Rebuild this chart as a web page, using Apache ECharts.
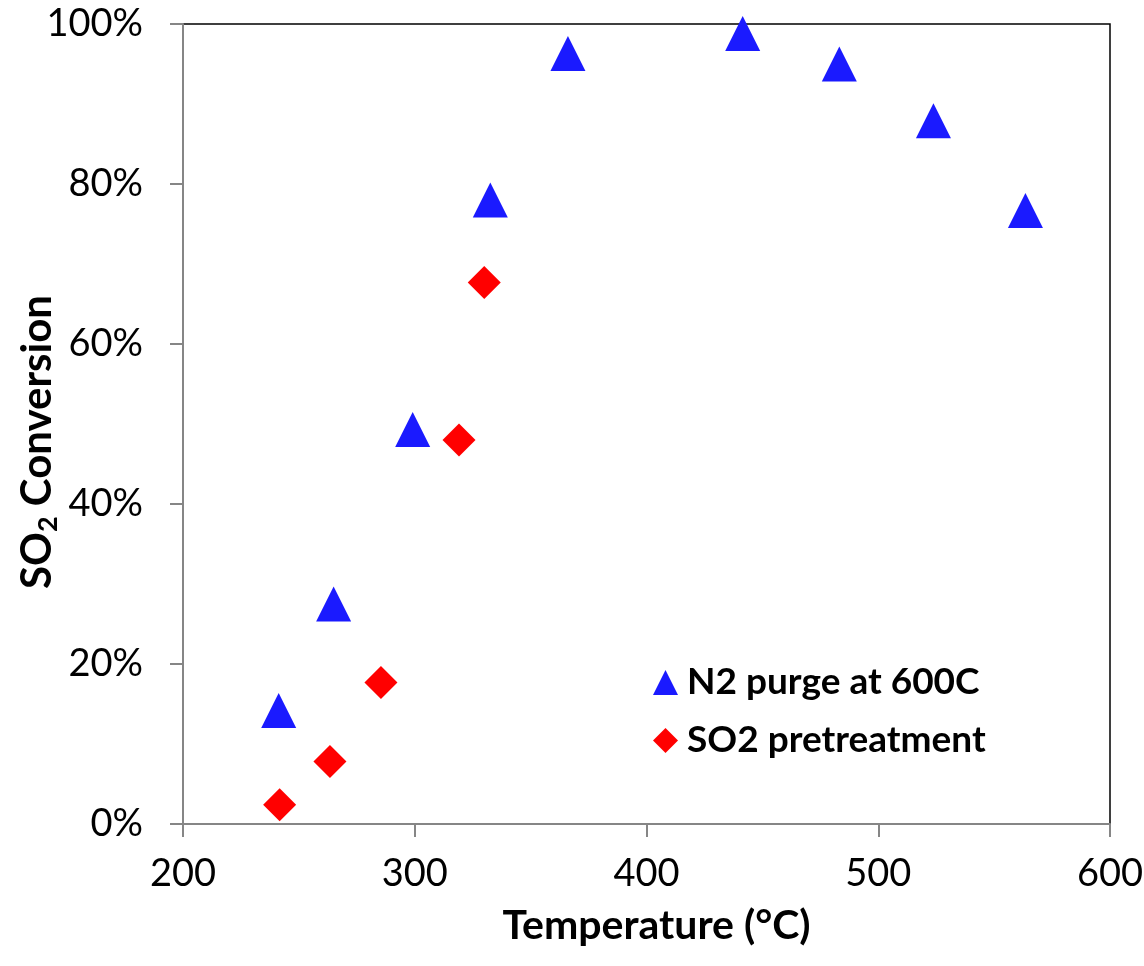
<!DOCTYPE html>
<html>
<head>
<meta charset="utf-8">
<script src="https://cdn.jsdelivr.net/npm/echarts@6/dist/echarts.min.js"></script>
<style>
  html, body { margin: 0; padding: 0; background: #fff; }
  #chart { width: 1144px; height: 966px; }
</style>
</head>
<body>
<div id="chart"></div>
<script>
// SO2 conversion (%) versus temperature (°C) for two catalyst treatments
const seriesNames = ['N2 purge at 600C', 'SO2 pretreatment'];

const tempN2 = [241.3, 265.0, 299.1, 332.6, 366.1, 441.5, 483.2, 523.8, 563.5];
const convN2 = [14.2, 27.5, 49.3, 78.0, 96.3, 98.8, 95.0, 87.9, 76.7];

const tempSO2 = [241.7, 263.4, 285.4, 319.1, 330.0];
const convSO2 = [2.4, 7.8, 17.7, 48.0, 67.7];

const xTicks = [200, 300, 400, 500, 600];
const yTicks = [0, 20, 40, 60, 80, 100];

const FONT = 'Lato, "Open Sans", sans-serif';
const AXIS_GRAY = '#868686';

function pairs(xs, ys) {
  return xs.map((x, i) => [x, ys[i]]);
}

const chart = echarts.init(document.getElementById('chart'), null, { renderer: 'canvas' });

chart.setOption({
  animation: false,
  backgroundColor: '#fff',
  grid: {
    left: 183, right: 34, top: 24, bottom: 142,
    outerBoundsMode: 'none',
    containLabel: false,
    show: true, borderColor: '#000', borderWidth: 1.5, backgroundColor: 'transparent'
  },
  legend: {
    orient: 'vertical',
    left: 648,
    top: 659,
    itemWidth: 25,
    itemHeight: 25,
    itemGap: 21,
    data: seriesNames,
    textStyle: {
      fontFamily: FONT, fontWeight: 'bold', fontSize: 37, color: '#000',
      lineHeight: 36, padding: [0, 0, 0, 4]
    }
  },
  xAxis: {
    type: 'value',
    min: xTicks[0],
    max: xTicks[xTicks.length - 1],
    interval: 100,
    name: 'Temperature (°C)',
    nameLocation: 'middle',
    nameGap: 81,
    nameMoveOverlap: false,
    nameTextStyle: {
      fontFamily: FONT, fontWeight: 'bold', fontSize: 41, color: '#000',
      padding: [0, 0, 0, 20]
    },
    axisLine: { show: true, onZero: false, lineStyle: { color: AXIS_GRAY, width: 2 } },
    axisTick: { show: true, inside: false, length: 13, lineStyle: { color: AXIS_GRAY, width: 2 } },
    axisLabel: { fontFamily: FONT, fontSize: 38, color: '#000', margin: 31 },
    splitLine: { show: false }
  },
  yAxis: {
    type: 'value',
    min: yTicks[0],
    max: yTicks[yTicks.length - 1],
    interval: 20,
    name: '{b|SO}{sub|2}{b| Conversion}',
    nameLocation: 'middle',
    nameRotate: 90,
    nameGap: 121,
    nameMoveOverlap: false,
    nameTextStyle: {
      padding: [0, 36, 0, 0],
      rich: {
        b: { fontFamily: FONT, fontWeight: 'bold', fontSize: 42, color: '#000', lineHeight: 50 },
        sub: {
          fontFamily: FONT, fontWeight: 'bold', fontSize: 27, color: '#000',
          lineHeight: 27, verticalAlign: 'bottom', padding: [20, 0, 0, 0]
        }
      }
    },
    axisLine: { show: true, onZero: false, lineStyle: { color: AXIS_GRAY, width: 2 } },
    axisTick: { show: true, inside: false, length: 13, lineStyle: { color: AXIS_GRAY, width: 2 } },
    axisLabel: { fontFamily: FONT, fontSize: 38, color: '#000', margin: 40, formatter: '{value}%' },
    splitLine: { show: false }
  },
  series: [
    {
      name: seriesNames[0],
      type: 'scatter',
      symbol: 'triangle',
      symbolSize: [35, 35],
      clip: false,
      itemStyle: { color: '#1a1aff', opacity: 1 },
      data: pairs(tempN2, convN2),
      z: 3
    },
    {
      name: seriesNames[1],
      type: 'scatter',
      symbol: 'diamond',
      symbolSize: [33, 33],
      clip: false,
      itemStyle: { color: '#ff0000', opacity: 1 },
      data: pairs(tempSO2, convSO2),
      z: 3
    }
  ]
});
</script>
</body>
</html>
